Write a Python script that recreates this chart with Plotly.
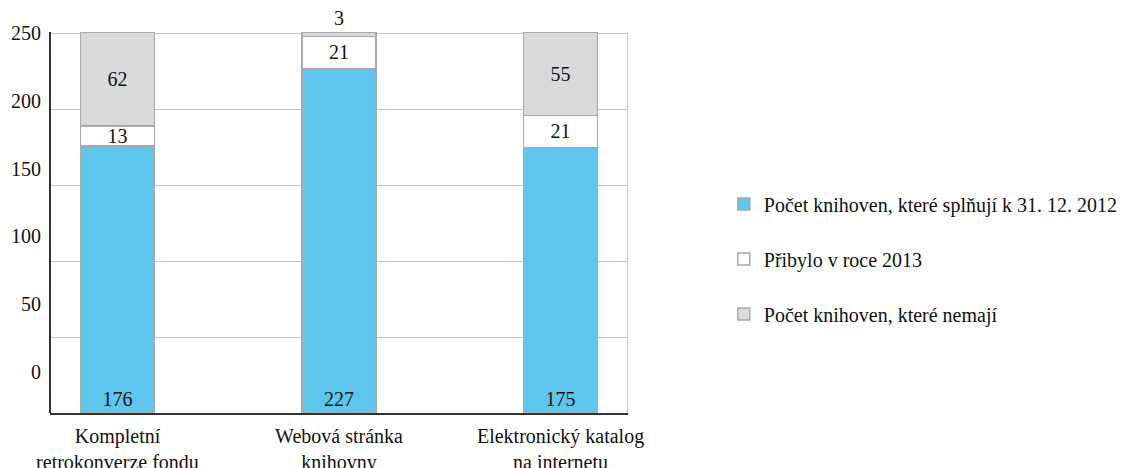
import plotly.graph_objects as go

categories = ["Kompletní<br>retrokonverze fondu", "Webová stránka<br>knihovny", "Elektronický katalog<br>na internetu"]
series_names = ["Počet knihoven, které splňují k 31. 12. 2012", "Přibylo v roce 2013", "Počet knihoven, které nemají"]
splnuji = [176, 227, 175]
pribylo = [13, 21, 21]
nemaji = [62, 3, 55]
y_ticks = [0, 50, 100, 150, 200, 250]

FONT = "Liberation Serif, Times New Roman, serif"
BLUE = "#5EC5EC"
WHITE = "#FFFFFF"
GRAY = "#D8D9DB"
EDGE = "#A9A9A9"
TXT = "#111111"
x = [0, 1, 2]

common = dict(width=0.333, cliponaxis=False, constraintext="none", textangle=0,
              textfont=dict(family=FONT, size=20, color=TXT))

fig = go.Figure()
fig.add_trace(go.Bar(
    x=x, y=splnuji, name=series_names[0], legendgroup="a",
    marker=dict(color=BLUE, line=dict(color=EDGE, width=1.5)),
    text=splnuji, textposition="inside", insidetextanchor="start", **common,
))
fig.add_trace(go.Bar(
    x=x, y=pribylo, name=series_names[1], legendgroup="b",
    marker=dict(color=WHITE, line=dict(color=EDGE, width=1.5)),
    text=pribylo, textposition="inside", insidetextanchor="middle", **common,
))
fig.add_trace(go.Bar(
    x=x, y=nemaji, name=series_names[2], legendgroup="c",
    marker=dict(color=GRAY, line=dict(color=EDGE, width=1.5)),
    text=nemaji, textposition=["inside", "outside", "inside"], insidetextanchor="middle",
    outsidetextfont=dict(family=FONT, size=20, color=TXT), **common,
))
# invisible trace on the label axis
fig.add_trace(go.Scatter(x=[None], y=[None], yaxis="y2", showlegend=False, hoverinfo="skip"))

# the page body adds an 8px offset, so the figure is 8px smaller than the window
fig.update_layout(
    width=1126, height=460,
    margin=dict(l=43, r=507, t=24, b=55, autoexpand=False),
    paper_bgcolor="white", plot_bgcolor="white",
    barmode="stack",
    font=dict(family=FONT, size=20, color=TXT),
    showlegend=True,
    legend=dict(
        x=1.168, xanchor="left", y=0.6, yanchor="top",
        traceorder="grouped", tracegroupgap=26,
        font=dict(family=FONT, size=20, color=TXT),
        bgcolor="rgba(0,0,0,0)",
    ),
    xaxis=dict(
        range=[-0.3, 2.3], tickvals=x, ticktext=categories, automargin=False,
        showline=True, linecolor="#333", linewidth=2,
        showgrid=False, zeroline=False, ticks="", ticklabelstandoff=4,
        tickfont=dict(family=FONT, size=20, color=TXT),
    ),
    yaxis=dict(
        range=[0, 251], tickvals=y_ticks, showticklabels=False, automargin=False,
        showgrid=True, gridcolor="#C4C4C4", gridwidth=1.2,
        showline=True, linecolor="#C4C4C4", linewidth=1.2, mirror=True,
        zeroline=False, ticks="",
    ),
    yaxis2=dict(
        overlaying="y", side="left", range=[-30.2, 250.7], automargin=False,
        tickvals=y_ticks, showgrid=False, zeroline=False,
        showline=True, linecolor="#333", linewidth=2,
        ticks="", ticklabelstandoff=4,
        tickfont=dict(family=FONT, size=20, color=TXT),
    ),
)

fig.write_html("out.html")
